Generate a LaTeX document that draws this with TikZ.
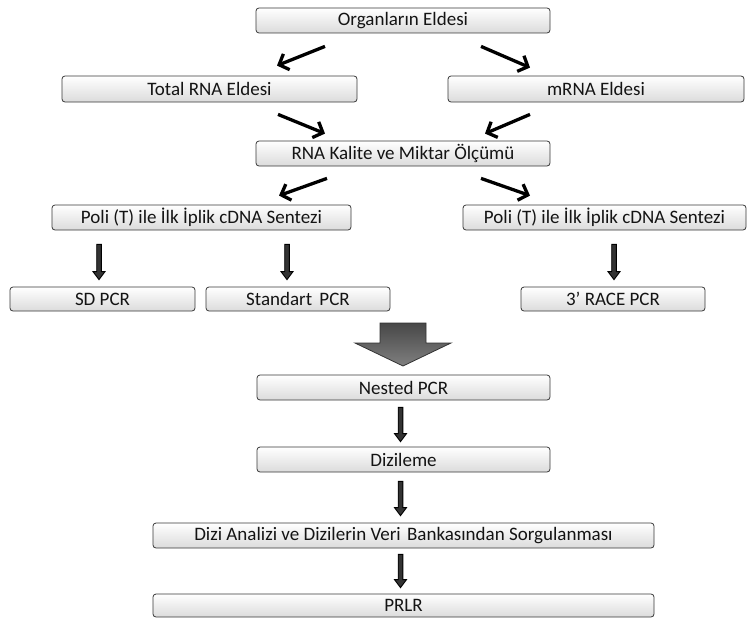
\documentclass[tikz,border=0pt]{standalone}
\usepackage{fontspec}
\setmainfont{Carlito}
\usetikzlibrary{arrows.meta,calc}
\newcommand{\blockdown}[2]{%
  \draw[vblk] ($#1+(-2.3,0)$) -- ($#2+(-2.3,-8)$) -- ($#2+(-6,-8)$) -- #2 -- ($#2+(6,-8)$) -- ($#2+(2.3,-8)$) -- ($#1+(2.3,0)$) -- cycle;}
\begin{document}
\begin{tikzpicture}[x=1pt,y=-1pt,
  box/.style={draw=black!78, line width=0.8pt, rounded corners=3pt, top color=white, bottom color=black!14,
    inner sep=0pt, font=\fontsize{19}{22}\selectfont, text=black!92},
  darr/.style={line width=3.3pt, -{Straight Barb[length=8pt,width=17pt]}},
  vblk/.style={draw=black, line width=0.9pt, fill=black!80, line join=miter},
  bigarr/.style={draw=black!80, line width=0.8pt, top color=black!72, bottom color=black!50}]
\useasboundingbox (0,0) rectangle (749,618);
\node[box, minimum width=294pt, minimum height=25pt] (org) at (403,20.5) {Organların Eldesi};
\node[box, minimum width=295pt, minimum height=26pt] (total) at (209.5,89) {Total RNA Eldesi};
\node[box, minimum width=296pt, minimum height=26pt] (mrna) at (596,89) {mRNA Eldesi};
\node[box, minimum width=294pt, minimum height=25pt] (rna) at (403,153.5) {RNA Kalite ve Miktar Ölçümü};
\node[box, minimum width=299pt, minimum height=25pt] (polL) at (201.5,217.5) {Poli (T) ile İlk İplik cDNA Sentezi};
\node[box, minimum width=283pt, minimum height=25pt] (polR) at (604.5,217.5) {Poli (T) ile İlk İplik cDNA Sentezi};
\node[box, minimum width=185pt, minimum height=24pt] (sd) at (102.5,299) {SD PCR};
\node[box, minimum width=184pt, minimum height=24pt] (std) at (298,299) {Standart\hspace{3pt} PCR};
\node[box, minimum width=184pt, minimum height=24pt] (race) at (613,299) {3’ RACE PCR};
\node[box, minimum width=293pt, minimum height=25pt] (nested) at (403.5,387.5) {Nested PCR};
\node[box, minimum width=293pt, minimum height=25pt] (dizileme) at (403.5,459.5) {Dizileme};
\node[box, minimum width=501pt, minimum height=25pt] (dizi) at (403.5,535.5) {Dizi Analizi ve Dizilerin Veri\hspace{2pt} Bankasından Sorgulanması};
\node[box, minimum width=501pt, minimum height=23pt] (prlr) at (403.5,605.5) {PRLR};
% diagonal arrows
\draw[darr] ($(org.south)+(-78,13)$) -- ($(total.north)+(67.5,-10)$);
\draw[darr] ($(org.south)+(78,13)$) -- ($(mrna.north)+(-66,-8)$);
\draw[darr] ($(total.south)+(68.5,12)$) -- ($(rna.north)+(-78,-7)$);
\draw[darr] ($(mrna.south)+(-66,12)$) -- ($(rna.north)+(82,-7)$);
\draw[darr] ($(rna.south)+(-76,12)$) -- ($(polL.north)+(77.5,-9)$);
\draw[darr] ($(rna.south)+(78,12)$) -- ($(polR.north)+(-74.5,-9)$);
% vertical block arrows
\coordinate (a1s) at ($(sd.north |- polL.south)+(-3.5,14)$);
\coordinate (a1e) at ($(sd.north)+(-3.5,-7)$);
\coordinate (a2s) at ($(std.north |- polL.south)+(-11,14)$);
\coordinate (a2e) at ($(std.north)+(-11,-7)$);
\coordinate (a3s) at ($(race.north |- polR.south)+(1,14)$);
\coordinate (a3e) at ($(race.north)+(1,-7)$);
\coordinate (a4s) at ($(nested.south)+(-3,7)$);
\coordinate (a4e) at ($(dizileme.north)+(-3,-5)$);
\coordinate (a5s) at ($(dizileme.south)+(-3,9)$);
\coordinate (a5e) at ($(dizi.north)+(-3,-7)$);
\coordinate (a6s) at ($(dizi.south)+(-3,6)$);
\coordinate (a6e) at ($(prlr.north)+(-3,-6)$);
\blockdown{(a1s)}{(a1e)}
\blockdown{(a2s)}{(a2e)}
\blockdown{(a3s)}{(a3e)}
\blockdown{(a4s)}{(a4e)}
\blockdown{(a5s)}{(a5e)}
\blockdown{(a6s)}{(a6e)}
% big block arrow
\draw[bigarr] (380,323) -- (426,323) -- (426,343) -- (451,343) -- (403,366) -- (355,343) -- (380,343) -- cycle;
\end{tikzpicture}
\end{document}
